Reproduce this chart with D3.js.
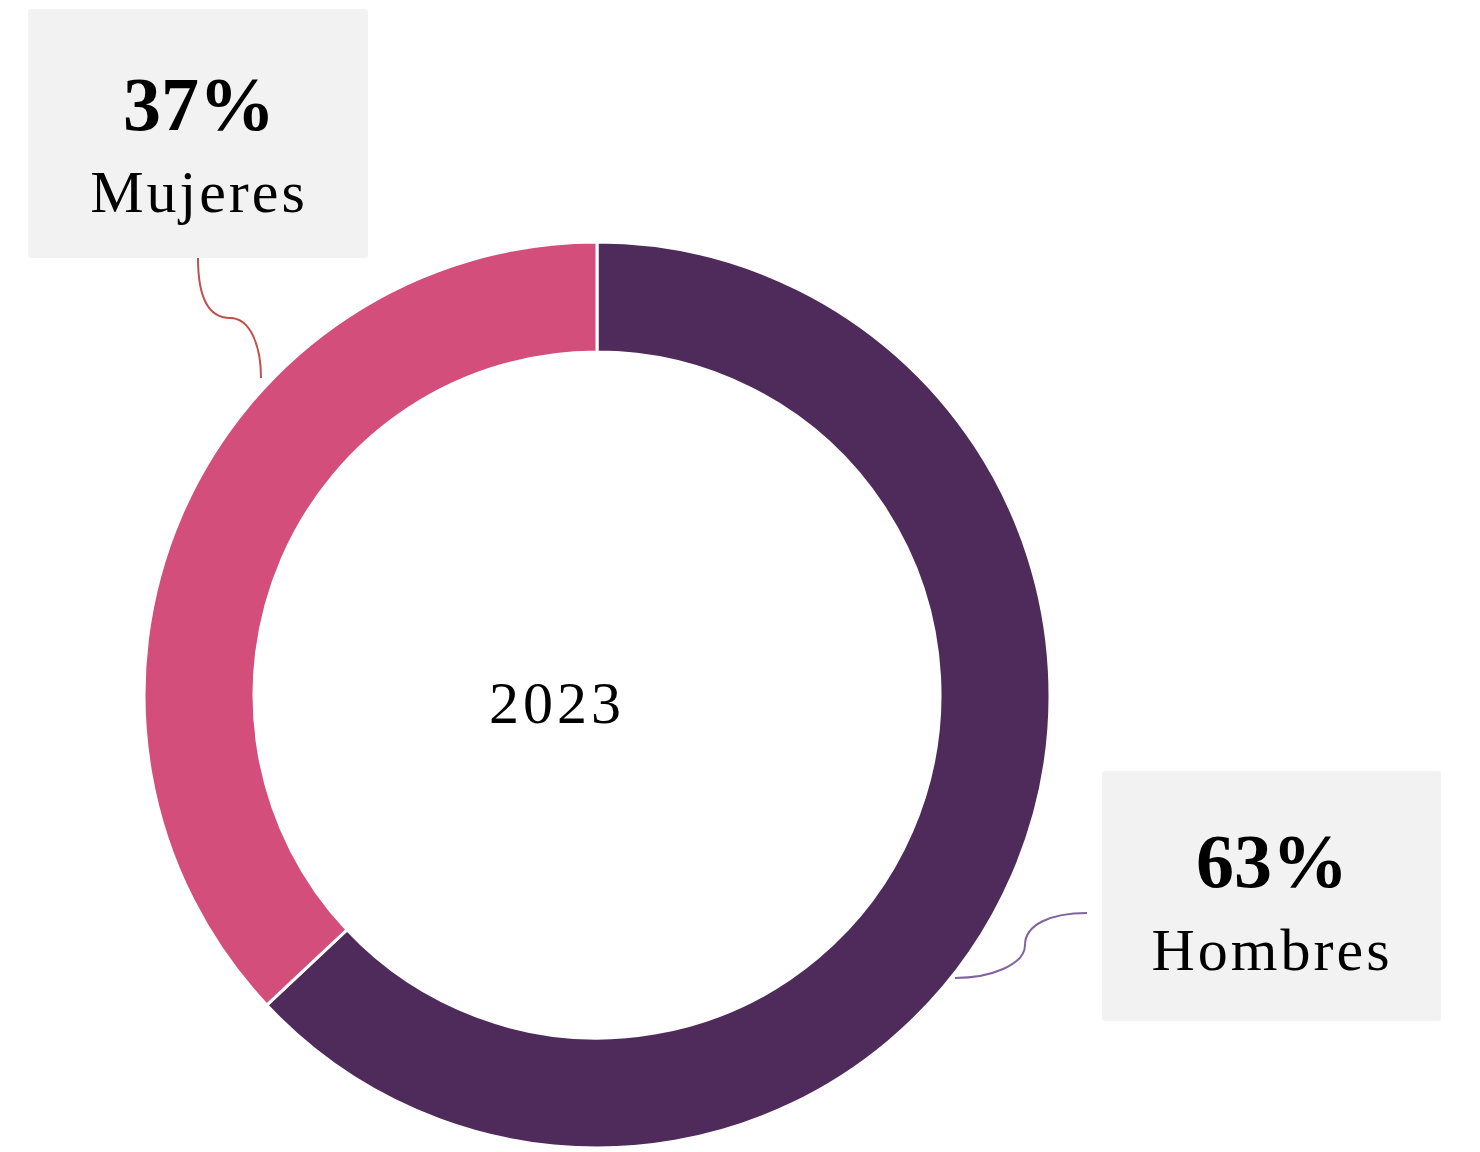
<!DOCTYPE html>
<html>
<head>
<meta charset="utf-8">
<script src="https://cdn.jsdelivr.net/npm/d3@7"></script>
<style>
  body { margin: 0; background: #fff; }
  svg { display: block; }
  text { font-family: "Liberation Serif", "DejaVu Serif", serif; fill: #000; }
</style>
</head>
<body>
<div id="chart"></div>
<script>
// data
var categories = ["Hombres", "Mujeres"],
    values = [63, 37],
    colors = ["#4F2B5B", "#D44E7B"],
    leaderColors = ["#8064A2", "#C0504D"],
    year = "2023";

var W = 1480, H = 1152,
    cx = 597, cy = 695,
    outerR = 453, innerR = 343;

var svg = d3.select("#chart").append("svg")
  .attr("width", W)
  .attr("height", H);

var data = categories.map(function(c, i) { return {name: c, value: values[i], color: colors[i], lead: leaderColors[i]}; });

var pie = d3.pie().sort(null).value(function(d) { return d.value; });
var arc = d3.arc().innerRadius(innerR).outerRadius(outerR);

var g = svg.append("g").attr("transform", "translate(" + cx + "," + cy + ")");

g.selectAll("path.slice")
  .data(pie(data))
  .enter().append("path")
  .attr("class", "slice")
  .attr("d", arc)
  .attr("fill", function(d) { return d.data.color; })
  .attr("stroke", "#fff")
  .attr("stroke-width", 3);

// centre label
svg.append("text")
  .attr("x", 557)
  .attr("y", 723)
  .attr("text-anchor", "middle")
  .style("font-size", "60px")
  .style("letter-spacing", "4px")
  .text(year);

// callout boxes (label position + leader path)
var callouts = {
  "Mujeres": { box: [28, 9, 340, 249], tx: 199, pctY: 130, nameY: 212,
               leader: "M198,258 C198,300 210,318 230,318 C250,318 261,345 261,378" },
  "Hombres": { box: [1102, 771, 339, 250], tx: 1272, pctY: 887, nameY: 970,
               leader: "M1087,913 C1050,913 1025,925 1025,945 C1025,965 990,978 955,978" }
};

data.forEach(function(d) {
  var c = callouts[d.name];
  svg.append("path")
    .attr("d", c.leader)
    .attr("fill", "none")
    .attr("stroke", d.lead)
    .attr("stroke-width", 2);

  svg.append("rect")
    .attr("x", c.box[0]).attr("y", c.box[1])
    .attr("width", c.box[2]).attr("height", c.box[3])
    .attr("rx", 3)
    .attr("fill", "#F2F2F2");

  svg.append("text")
    .attr("x", c.tx).attr("y", c.pctY)
    .attr("text-anchor", "middle")
    .style("font-size", "76px")
    .style("font-weight", "bold")
    .text(d.value + "%");

  svg.append("text")
    .attr("x", c.tx).attr("y", c.nameY)
    .attr("text-anchor", "middle")
    .style("font-size", "60px")
    .style("letter-spacing", "3px")
    .text(d.name);
});
</script>
</body>
</html>
